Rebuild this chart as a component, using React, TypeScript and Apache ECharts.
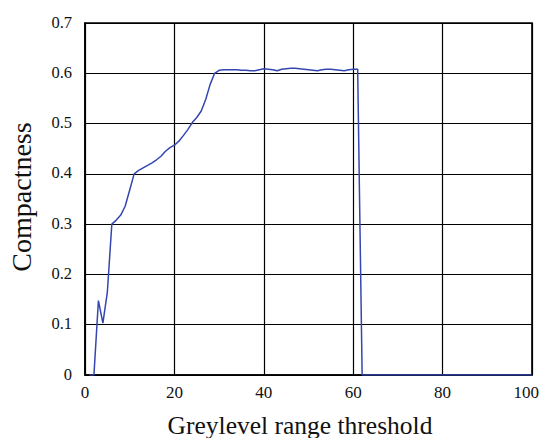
import React, { useEffect, useRef } from "react";
import * as echarts from "echarts";

const thresholds: number[] = [
  1, 2, 3, 4, 5, 6, 7, 8, 9, 10, 11, 12, 13, 14, 15, 16, 17, 18, 19, 20,
  21, 22, 23, 24, 25, 26, 27, 28, 29, 30, 31, 32, 33, 34, 35, 36, 37, 38, 39, 40,
  41, 42, 43, 44, 45, 46, 47, 48, 49, 50, 51, 52, 53, 54, 55, 56, 57, 58, 59, 60,
  61, 62, 70, 80, 90, 100,
];
const compactness: number[] = [
  0, 0, 0.148, 0.103, 0.165, 0.3, 0.308, 0.318, 0.336, 0.368, 0.4, 0.407, 0.412, 0.417, 0.422, 0.428, 0.435, 0.445, 0.452, 0.457,
  0.465, 0.476, 0.488, 0.502, 0.512, 0.525, 0.548, 0.578, 0.6, 0.606, 0.607, 0.607, 0.607, 0.607, 0.606, 0.606, 0.605, 0.605, 0.607, 0.609,
  0.608, 0.607, 0.605, 0.608, 0.609, 0.61, 0.61, 0.609, 0.608, 0.607, 0.606, 0.605, 0.607, 0.608, 0.608, 0.607, 0.606, 0.605, 0.607, 0.608,
  0.608, 0, 0, 0, 0, 0,
];

const xTicks: number[] = [0, 20, 40, 60, 80, 100];
const yTicks: number[] = [0, 0.1, 0.2, 0.3, 0.4, 0.5, 0.6, 0.7];
const xTickLabels: string[] = ["0", "20", "40", "60", "80", "100"];
const yTickLabels: string[] = ["0", "0.1", "0.2", "0.3", "0.4", "0.5", "0.6", "0.7"];

const xTitle = "Greylevel range threshold";
const yTitle = "Compactness";

export default function App() {
  const ref = useRef<HTMLDivElement>(null);
  useEffect(() => {
    if (!ref.current) return;
    const chart = echarts.init(ref.current, null, { renderer: "svg" });
    const font = "Liberation Serif";
    chart.setOption({
      animation: false,
      backgroundColor: "#ffffff",
      textStyle: { fontFamily: font },
      grid: {
        left: 85,
        right: 8,
        top: 23,
        bottom: 63,
        show: true,
        borderColor: "#000",
        borderWidth: 1.6,
        containLabel: false,
        outerBoundsMode: "none",
      },
      xAxis: {
        type: "value",
        min: 0,
        max: 100,
        interval: 20,
        axisLine: { show: true, lineStyle: { color: "#000", width: 1.6 } },
        axisTick: { show: false },
        splitLine: { show: true, lineStyle: { color: "#000", width: 1.2 } },
        axisLabel: { show: false },
      },
      yAxis: {
        type: "value",
        min: 0,
        max: 0.7,
        interval: 0.1,
        axisLine: { show: true, lineStyle: { color: "#000", width: 1.6 } },
        axisTick: { show: false },
        splitLine: { show: true, lineStyle: { color: "#000", width: 1.2 } },
        axisLabel: { show: false },
      },
      series: [
        {
          type: "line",
          data: thresholds.map((t, i) => [t, compactness[i]]),
          showSymbol: false,
          smooth: false,
          lineStyle: { color: "#3446b0", width: 1.5 },
          z: 5,
        },
      ],
    });

    const texts: any[] = [];
    xTicks.forEach((v, i) => {
      const p = chart.convertToPixel({ gridIndex: 0 }, [v, 0]) as number[];
      const last = i === xTicks.length - 1;
      texts.push({
        type: "text",
        x: last ? 539 : p[0],
        y: p[1] + 17,
        style: {
          text: xTickLabels[i],
          fontFamily: font,
          fontSize: 17,
          fill: "#111",
          align: last ? "right" : "center",
          verticalAlign: "middle",
        },
      });
    });
    yTicks.forEach((v, i) => {
      const p = chart.convertToPixel({ gridIndex: 0 }, [0, v]) as number[];
      texts.push({
        type: "text",
        x: p[0] - 13,
        y: p[1] - 1,
        style: {
          text: yTickLabels[i],
          fontFamily: font,
          fontSize: 16.5,
          fill: "#111",
          align: "right",
          verticalAlign: "middle",
        },
      });
    });
    texts.push(
      {
        type: "text",
        x: 300,
        y: 425,
        style: {
          text: xTitle,
          fontFamily: font,
          fontSize: 25.5,
          fill: "#111",
          align: "center",
          verticalAlign: "middle",
        },
      },
      {
        type: "text",
        x: 21,
        y: 197,
        rotation: Math.PI / 2,
        style: {
          text: yTitle,
          fontFamily: font,
          fontSize: 28,
          fill: "#111",
          align: "center",
          verticalAlign: "middle",
        },
      }
    );
    chart.setOption({ graphic: texts });
    return () => chart.dispose();
  }, []);
  return (
    <div
      ref={ref}
      style={{ position: "absolute", left: 0, top: 0, width: 540, height: 438 }}
    />
  );
}
